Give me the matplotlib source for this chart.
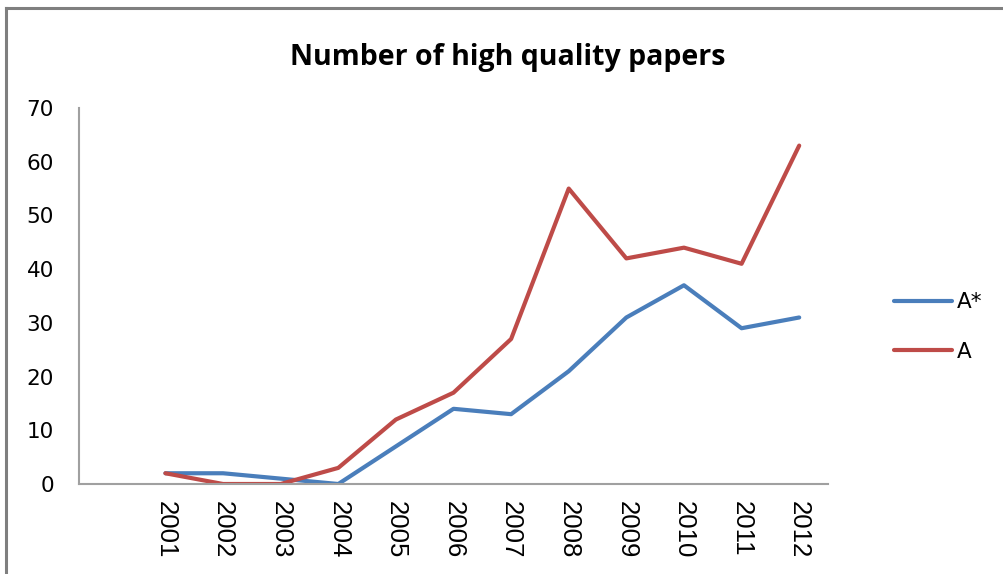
import matplotlib
matplotlib.use("Agg")
import matplotlib.pyplot as plt
from matplotlib.lines import Line2D

years = ["2001", "2002", "2003", "2004", "2005", "2006",
         "2007", "2008", "2009", "2010", "2011", "2012"]
a_star = [2, 2, 1, 0, 7, 14, 13, 21, 31, 37, 29, 31]
a_vals = [2, 0, 0, 3, 12, 17, 27, 55, 42, 44, 41, 63]
title = "Number of high quality papers"

W, H = 1004, 574
fig = plt.figure(figsize=(W / 100, H / 100), dpi=100)
ax = fig.add_axes([79 / W, 1 - 484 / H, (828 - 79) / W, (484 - 108) / H])

# category axis with an empty first slot
cats = [""] + years
xpos = list(range(len(cats)))
ax.plot(xpos[1:], a_star, color="#4a7ebb", lw=3.0, label="A*", solid_capstyle="round", solid_joinstyle="round")
ax.plot(xpos[1:], a_vals, color="#be4b48", lw=3.0, label="A", solid_capstyle="round", solid_joinstyle="round")

ax.set_xlim(-0.5, len(cats) - 0.5)
ax.set_ylim(0, 70)
ax.set_yticks(range(0, 71, 10))
ax.set_xticks(xpos[1:])
ax.set_xticklabels(years, rotation=-90, fontsize=18.5, family="Liberation Sans")
ax.tick_params(axis="x", length=0, pad=12)
ax.tick_params(axis="y", length=0, pad=18, labelsize=15.5)
for lab in ax.get_xticklabels():
    lab.set_verticalalignment("top")
    lab.set_horizontalalignment("center")
for side in ("top", "right"):
    ax.spines[side].set_visible(False)
for side in ("left", "bottom"):
    ax.spines[side].set_color("#a0a0a0")
    ax.spines[side].set_linewidth(1.5)
ax.patch.set_alpha(0)

fig.text(508 / W, 1 - 57 / H, title, ha="center", va="center",
         fontsize=20.5, fontweight="bold", family="Open Sans")

leg = fig.legend(loc="center left", bbox_to_anchor=(875 / W, 1 - 327 / H),
                 frameon=False, fontsize=15.5, handlelength=2.7,
                 labelspacing=1.35, handletextpad=0.2)

# figure border (top and left)
fig.add_artist(Line2D([6 / W, 1], [1 - 8 / H, 1 - 8 / H], color="#7f7f7f", lw=2.2, transform=fig.transFigure))
fig.add_artist(Line2D([6 / W, 6 / W], [0, 1 - 8 / H], color="#7f7f7f", lw=2.2, transform=fig.transFigure))

fig.savefig("out.png", dpi=100)
